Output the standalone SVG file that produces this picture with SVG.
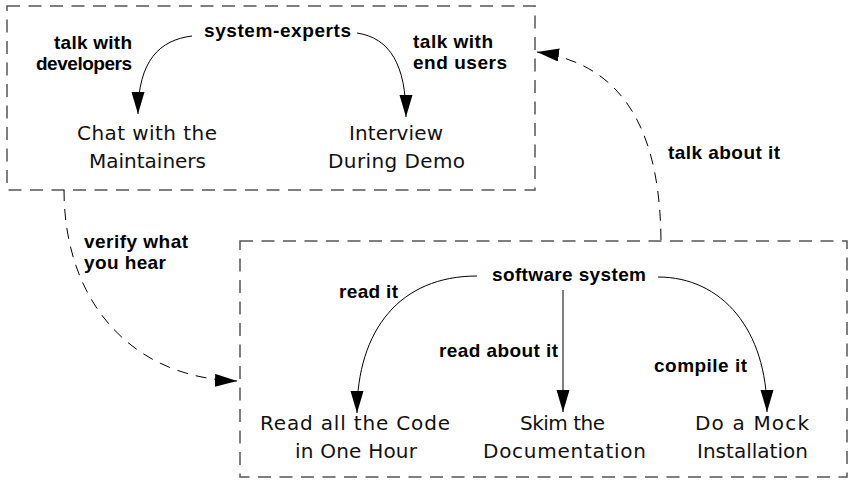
<svg xmlns="http://www.w3.org/2000/svg" width="854" height="482" viewBox="0 0 854 482">
<style>
.box{fill:none;stroke:#555;stroke-width:1.5;stroke-dasharray:13 8.5}
.edge{fill:none;stroke:#000;stroke-width:1}
.dash{stroke-dasharray:11 8}
.lbl{font-family:"Liberation Sans",Arial,sans-serif;font-weight:bold;font-size:19px;fill:#000}
.node{font-family:"DejaVu Sans","Liberation Sans",sans-serif;font-size:20px;fill:#111}
</style>
<defs>
<marker id="ah" markerUnits="userSpaceOnUse" markerWidth="24" markerHeight="14" refX="22" refY="6.5" orient="auto">
<path d="M0,0 L22,6.5 L0,13 Z" fill="#000" stroke="none"/>
</marker>
</defs>
<rect width="854" height="482" fill="#fff"/>
<g id="experts-group">
<rect class="box" x="7" y="6" width="528" height="184"/>
<text class="lbl" x="204" y="37" textLength="147" lengthAdjust="spacing">system-experts</text>
</g>
<g id="chat-node">
<text class="node" x="77" y="139.5" textLength="140" lengthAdjust="spacing">Chat with the</text>
<text class="node" x="89" y="167.5" textLength="117" lengthAdjust="spacing">Maintainers</text>
</g>
<g id="interview-node">
<text class="node" x="349" y="139.5" textLength="94" lengthAdjust="spacing">Interview</text>
<text class="node" x="328" y="167.5" textLength="137" lengthAdjust="spacing">During Demo</text>
</g>
<g id="software-group">
<rect class="box" x="240" y="241" width="607" height="236"/>
<text class="lbl" x="492" y="281" textLength="154" lengthAdjust="spacing">software system</text>
</g>
<g id="read-code-node">
<text class="node" x="260" y="430" textLength="190" lengthAdjust="spacing">Read all the Code</text>
<text class="node" x="295" y="458" textLength="122" lengthAdjust="spacing">in One Hour</text>
</g>
<g id="skim-node">
<text class="node" x="520" y="430" textLength="85" lengthAdjust="spacing">Skim the</text>
<text class="node" x="483" y="458" textLength="163" lengthAdjust="spacing">Documentation</text>
</g>
<g id="mock-node">
<text class="node" x="695" y="430" textLength="114" lengthAdjust="spacing">Do a Mock</text>
<text class="node" x="697" y="458" textLength="111" lengthAdjust="spacing">Installation</text>
</g>
<g id="connectors">
<path class="edge" d="M192,36 C160,40 138,60 138,114" marker-end="url(#ah)"/>
<path class="edge" d="M357,33 C390,38 406,65 406,117" marker-end="url(#ah)"/>
<path class="edge" d="M477,276 C400,276 357,330 357,413" marker-end="url(#ah)"/>
<path class="edge" d="M563,290 L563,412" marker-end="url(#ah)"/>
<path class="edge" d="M658,277 C722,277 767,330 767,412" marker-end="url(#ah)"/>
<path class="edge dash" d="M64,190 C64,300 130,378 237,381" marker-end="url(#ah)"/>
<path class="edge dash" d="M661,240 C660,140 630,65 537,52" marker-end="url(#ah)"/>
<text class="lbl" x="54" y="48.5" textLength="78" lengthAdjust="spacing">talk with</text>
<text class="lbl" x="36" y="69.5" textLength="96" lengthAdjust="spacing">developers</text>
<text class="lbl" x="413" y="48" textLength="80" lengthAdjust="spacing">talk with</text>
<text class="lbl" x="413" y="69" textLength="94" lengthAdjust="spacing">end users</text>
<text class="lbl" x="668" y="159" textLength="112" lengthAdjust="spacing">talk about it</text>
<text class="lbl" x="84" y="247.5" textLength="104" lengthAdjust="spacing">verify what</text>
<text class="lbl" x="84" y="269" textLength="82" lengthAdjust="spacing">you hear</text>
<text class="lbl" x="339" y="298" textLength="59" lengthAdjust="spacing">read it</text>
<text class="lbl" x="439" y="357" textLength="119" lengthAdjust="spacing">read about it</text>
<text class="lbl" x="654" y="372" textLength="93" lengthAdjust="spacing">compile it</text>
</g>
</svg>
